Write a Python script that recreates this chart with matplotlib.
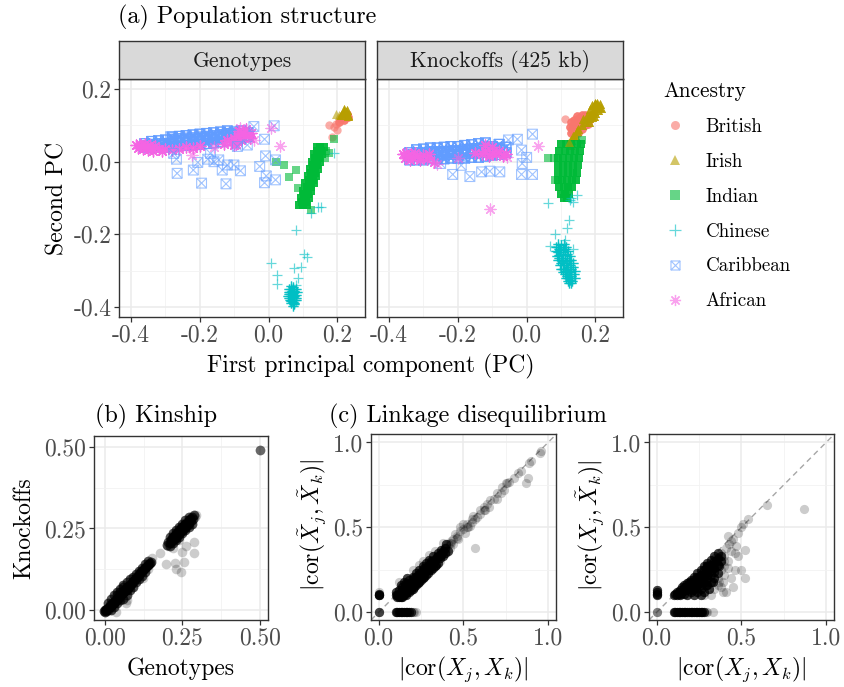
import matplotlib
matplotlib.use('Agg')
import matplotlib.pyplot as plt
from matplotlib.path import Path
from matplotlib.lines import Line2D

plt.rcParams['font.family'] = 'cmr10'
plt.rcParams['mathtext.fontset'] = 'cm'
plt.rcParams['axes.unicode_minus'] = False

W, H = 844, 687

ancestry = ['British', 'Irish', 'Indian', 'Chinese', 'Caribbean', 'African']
colors = ['#F8766D', '#B79F00', '#00BA38', '#00BFC4', '#619CFF', '#F564E3']

# ---- (a) PCs, genotypes: dense cores and scattered individuals ----
british_geno_core = [(0.205, 0.110), (0.210, 0.118), (0.215, 0.125), (0.220, 0.130), (0.225, 0.128),
                     (0.212, 0.122), (0.218, 0.115), (0.222, 0.122), (0.228, 0.132), (0.230, 0.124)]
british_geno_out = [(0.176, 0.102), (0.200, 0.088), (0.185, 0.068), (0.195, 0.105), (0.190, 0.095)]
irish_geno_core = [(0.215, 0.135), (0.220, 0.140), (0.225, 0.138), (0.230, 0.130), (0.210, 0.128),
                   (0.228, 0.142), (0.218, 0.145), (0.232, 0.125)]
irish_geno_out = [(0.205, 0.130), (0.195, 0.132)]
indian_geno_core = [(0.088, -0.12), (0.100, -0.12), (0.112, -0.12), (0.094, -0.10), (0.106, -0.10),
                    (0.118, -0.10), (0.100, -0.08), (0.112, -0.08), (0.124, -0.08), (0.107, -0.06),
                    (0.119, -0.06), (0.131, -0.06), (0.113, -0.04), (0.125, -0.04), (0.137, -0.04),
                    (0.119, -0.02), (0.131, -0.02), (0.143, -0.02), (0.125, 0.00), (0.137, 0.00),
                    (0.149, 0.00), (0.132, 0.02), (0.144, 0.02), (0.156, 0.02), (0.140, 0.04),
                    (0.150, 0.04), (0.160, 0.04), (0.097, -0.11), (0.109, -0.11), (0.103, -0.09),
                    (0.115, -0.09), (0.110, -0.07), (0.122, -0.07), (0.116, -0.05), (0.128, -0.05),
                    (0.122, -0.03), (0.134, -0.03), (0.128, -0.01), (0.140, -0.01), (0.134, 0.01),
                    (0.146, 0.01), (0.141, 0.03), (0.153, 0.03)]
indian_geno_out = [(0.020, -0.002), (0.045, -0.009), (0.059, -0.041), (0.079, -0.023), (0.084, -0.073),
                   (0.122, -0.133), (0.190, 0.062), (0.176, 0.023), (0.168, 0.030), (0.165, 0.010)]
chinese_geno_core = [(0.062, -0.360), (0.068, -0.355), (0.074, -0.358), (0.065, -0.370), (0.072, -0.372),
                     (0.078, -0.368), (0.060, -0.375), (0.068, -0.380), (0.075, -0.380), (0.070, -0.388),
                     (0.064, -0.385), (0.072, -0.345), (0.078, -0.350), (0.066, -0.365), (0.070, -0.362),
                     (0.073, -0.392), (0.082, -0.360), (0.058, -0.365), (0.060, -0.350), (0.065, -0.350),
                     (0.070, -0.350), (0.075, -0.355), (0.060, -0.360), (0.070, -0.370), (0.075, -0.370),
                     (0.062, -0.380), (0.078, -0.380), (0.066, -0.390), (0.074, -0.390), (0.070, -0.398),
                     (0.080, -0.375), (0.057, -0.370), (0.064, -0.342)]
chinese_geno_out = [(0.006, -0.280), (0.025, -0.313), (0.025, -0.336), (0.079, -0.188), (0.103, -0.253),
                    (0.110, -0.262), (0.093, -0.290), (0.074, -0.294), (0.142, -0.126), (0.122, -0.142),
                    (0.190, 0.023), (0.151, -0.124), (0.085, -0.320), (0.080, -0.340)]
caribbean_geno_core = [(-0.36, 0.040), (-0.36, 0.050), (-0.34, 0.038), (-0.34, 0.048), (-0.34, 0.056),
                       (-0.32, 0.040), (-0.32, 0.050), (-0.32, 0.058), (-0.30, 0.040), (-0.30, 0.050),
                       (-0.30, 0.060), (-0.28, 0.042), (-0.28, 0.052), (-0.28, 0.062), (-0.28, 0.068),
                       (-0.26, 0.044), (-0.26, 0.054), (-0.26, 0.064), (-0.26, 0.070), (-0.24, 0.045),
                       (-0.24, 0.055), (-0.24, 0.065), (-0.24, 0.072), (-0.22, 0.046), (-0.22, 0.056),
                       (-0.22, 0.066), (-0.22, 0.074), (-0.20, 0.048), (-0.20, 0.058), (-0.20, 0.068),
                       (-0.20, 0.076), (-0.18, 0.050), (-0.18, 0.060), (-0.18, 0.070), (-0.18, 0.078),
                       (-0.16, 0.052), (-0.16, 0.062), (-0.16, 0.072), (-0.16, 0.080), (-0.14, 0.055),
                       (-0.14, 0.065), (-0.14, 0.075), (-0.14, 0.082), (-0.12, 0.058), (-0.12, 0.068),
                       (-0.12, 0.078), (-0.12, 0.085), (-0.10, 0.062), (-0.10, 0.072), (-0.10, 0.082),
                       (-0.08, 0.065), (-0.08, 0.075), (-0.08, 0.085), (-0.06, 0.070), (-0.06, 0.080),
                       (-0.35, 0.044), (-0.33, 0.045), (-0.31, 0.046), (-0.29, 0.048), (-0.27, 0.058),
                       (-0.25, 0.060), (-0.23, 0.060), (-0.21, 0.062), (-0.19, 0.064), (-0.17, 0.066),
                       (-0.15, 0.068), (-0.13, 0.072), (-0.11, 0.076), (-0.09, 0.078), (-0.07, 0.078)]
caribbean_geno_out = [(-0.266, -0.032), (-0.268, 0.007), (-0.195, -0.059), (-0.124, -0.061), (-0.219, -0.023),
                      (-0.206, -0.002), (-0.177, 0.007), (-0.159, 0.000), (-0.135, -0.023), (-0.120, -0.009),
                      (-0.101, -0.009), (-0.082, -0.025), (-0.026, -0.013), (-0.009, 0.016), (-0.007, -0.039),
                      (-0.012, -0.058), (0.020, -0.050), (0.020, 0.005), (-0.043, 0.097), (0.016, 0.099),
                      (-0.012, 0.062), (-0.062, 0.046), (-0.091, 0.042), (-0.285, 0.069), (-0.276, 0.023),
                      (-0.169, 0.023), (-0.145, 0.005)]
african_geno_core = [(-0.385, 0.045), (-0.380, 0.038), (-0.375, 0.050), (-0.370, 0.042), (-0.365, 0.035),
                     (-0.360, 0.048), (-0.355, 0.040), (-0.350, 0.032), (-0.345, 0.045), (-0.340, 0.038),
                     (-0.335, 0.030), (-0.330, 0.042), (-0.320, 0.035), (-0.310, 0.030), (-0.300, 0.035),
                     (-0.280, 0.032), (-0.260, 0.035), (-0.240, 0.040), (-0.220, 0.038), (-0.200, 0.042),
                     (-0.130, 0.050), (-0.120, 0.060), (-0.110, 0.055), (-0.100, 0.065), (-0.090, 0.070),
                     (-0.080, 0.060), (-0.075, 0.080), (-0.070, 0.075), (-0.065, 0.090), (-0.060, 0.070),
                     (-0.055, 0.065), (-0.050, 0.080), (-0.085, 0.085), (-0.100, 0.045), (-0.095, 0.050)]
african_geno_out = [(0.033, 0.042), (0.006, 0.092), (-0.082, 0.092), (-0.222, 0.019), (-0.043, 0.060),
                    (-0.160, 0.040)]

# ---- (a) PCs, knockoffs ----
british_knock_core = [(0.128, 0.080), (0.132, 0.090), (0.135, 0.100), (0.140, 0.085), (0.142, 0.098),
                      (0.148, 0.105), (0.150, 0.092), (0.155, 0.110), (0.158, 0.100), (0.162, 0.115),
                      (0.165, 0.105), (0.170, 0.120), (0.175, 0.112), (0.180, 0.125), (0.185, 0.118),
                      (0.190, 0.130), (0.145, 0.112), (0.138, 0.075), (0.125, 0.095), (0.130, 0.110),
                      (0.138, 0.115), (0.145, 0.125), (0.152, 0.120), (0.160, 0.128), (0.170, 0.130),
                      (0.135, 0.085), (0.150, 0.080), (0.160, 0.090), (0.170, 0.100), (0.178, 0.105)]
british_knock_out = [(0.111, 0.117)]
irish_knock_core = [(0.126, 0.046), (0.130, 0.060), (0.135, 0.070), (0.140, 0.075), (0.145, 0.085),
                    (0.150, 0.090), (0.160, 0.100), (0.170, 0.110), (0.180, 0.120), (0.190, 0.135),
                    (0.195, 0.140), (0.200, 0.148), (0.205, 0.155), (0.210, 0.150), (0.200, 0.158),
                    (0.185, 0.128), (0.175, 0.125), (0.165, 0.118), (0.195, 0.125), (0.208, 0.142),
                    (0.185, 0.145), (0.190, 0.155), (0.198, 0.162), (0.205, 0.162), (0.212, 0.158),
                    (0.215, 0.148), (0.200, 0.135), (0.190, 0.122), (0.180, 0.110)]
irish_knock_out = [(0.122, 0.055)]
indian_knock_core = [(0.100, 0.05), (0.115, 0.05), (0.130, 0.05), (0.145, 0.05), (0.158, 0.05),
                     (0.095, 0.03), (0.110, 0.03), (0.125, 0.03), (0.140, 0.03), (0.155, 0.03),
                     (0.092, 0.01), (0.107, 0.01), (0.122, 0.01), (0.137, 0.01), (0.152, 0.01),
                     (0.090, -0.01), (0.105, -0.01), (0.120, -0.01), (0.135, -0.01), (0.148, -0.01),
                     (0.090, -0.03), (0.105, -0.03), (0.120, -0.03), (0.135, -0.03), (0.145, -0.03),
                     (0.090, -0.05), (0.104, -0.05), (0.118, -0.05), (0.132, -0.05), (0.142, -0.05),
                     (0.095, -0.07), (0.108, -0.07), (0.120, -0.07), (0.133, -0.07),
                     (0.100, -0.09), (0.112, -0.09), (0.124, -0.09), (0.108, -0.10), (0.118, -0.10)]
indian_knock_out = [(0.063, 0.009), (0.078, 0.009), (0.082, -0.050), (0.160, 0.060)]
chinese_knock_core = [(0.085, -0.235), (0.100, -0.230), (0.110, -0.240), (0.090, -0.250), (0.105, -0.250),
                      (0.118, -0.255), (0.095, -0.265), (0.110, -0.265), (0.122, -0.270), (0.100, -0.280),
                      (0.113, -0.280), (0.126, -0.285), (0.105, -0.295), (0.118, -0.295), (0.130, -0.300),
                      (0.110, -0.310), (0.122, -0.310), (0.115, -0.320), (0.125, -0.325), (0.120, -0.330),
                      (0.135, -0.290), (0.098, -0.242), (0.090, -0.235), (0.095, -0.240), (0.105, -0.240),
                      (0.100, -0.255), (0.112, -0.258), (0.095, -0.258), (0.105, -0.270), (0.116, -0.275),
                      (0.108, -0.285), (0.120, -0.290), (0.112, -0.300), (0.125, -0.305), (0.115, -0.305),
                      (0.118, -0.315), (0.128, -0.315), (0.120, -0.320), (0.122, -0.335), (0.130, -0.320),
                      (0.102, -0.272), (0.092, -0.228), (0.085, -0.245), (0.088, -0.260), (0.140, -0.300),
                      (0.138, -0.310), (0.132, -0.330), (0.128, -0.335), (0.092, -0.270), (0.098, -0.285),
                      (0.135, -0.280), (0.130, -0.270), (0.125, -0.260), (0.120, -0.245), (0.115, -0.235),
                      (0.108, -0.228), (0.128, -0.295), (0.140, -0.320), (0.100, -0.295), (0.105, -0.305)]
chinese_knock_out = [(0.063, -0.115), (0.123, -0.160), (0.116, -0.184), (0.082, -0.199), (0.069, -0.232),
                     (0.145, -0.092), (0.135, -0.110), (0.130, -0.100), (0.112, -0.215), (0.135, -0.240),
                     (0.125, -0.105)]
caribbean_knock_core = [(-0.34, 0.005), (-0.34, 0.015), (-0.34, 0.025), (-0.32, 0.005), (-0.32, 0.015),
                        (-0.32, 0.025), (-0.32, 0.033), (-0.30, 0.005), (-0.30, 0.015), (-0.30, 0.025),
                        (-0.30, 0.035), (-0.28, 0.008), (-0.28, 0.018), (-0.28, 0.028), (-0.28, 0.038),
                        (-0.26, 0.008), (-0.26, 0.018), (-0.26, 0.028), (-0.26, 0.038), (-0.24, 0.008),
                        (-0.24, 0.018), (-0.24, 0.028), (-0.24, 0.040), (-0.22, 0.010), (-0.22, 0.020),
                        (-0.22, 0.030), (-0.22, 0.042), (-0.20, 0.010), (-0.20, 0.020), (-0.20, 0.030),
                        (-0.20, 0.042), (-0.18, 0.010), (-0.18, 0.022), (-0.18, 0.034), (-0.18, 0.045),
                        (-0.16, 0.012), (-0.16, 0.024), (-0.16, 0.036), (-0.16, 0.047), (-0.14, 0.012),
                        (-0.14, 0.024), (-0.14, 0.036), (-0.14, 0.050), (-0.12, 0.015), (-0.12, 0.027),
                        (-0.12, 0.040), (-0.12, 0.052), (-0.10, 0.018), (-0.10, 0.030), (-0.10, 0.042),
                        (-0.08, 0.020), (-0.08, 0.035), (-0.08, 0.048), (-0.06, 0.025), (-0.06, 0.040),
                        (-0.33, 0.020), (-0.31, 0.020), (-0.29, 0.022), (-0.27, 0.024), (-0.25, 0.024),
                        (-0.23, 0.026), (-0.21, 0.026), (-0.19, 0.028), (-0.17, 0.030), (-0.15, 0.032),
                        (-0.13, 0.034), (-0.11, 0.036), (-0.09, 0.038), (-0.07, 0.032)]
caribbean_knock_out = [(-0.215, -0.035), (-0.165, -0.041), (-0.131, -0.028), (-0.107, -0.026), (-0.078, -0.028),
                       (-0.015, -0.035), (0.017, -0.035), (-0.053, 0.060), (-0.027, 0.062), (0.017, 0.076),
                       (-0.015, 0.032), (0.000, 0.012), (-0.013, -0.005), (-0.250, -0.005), (-0.190, -0.010)]
african_knock_core = [(-0.360, 0.020), (-0.355, 0.010), (-0.350, 0.025), (-0.345, 0.015), (-0.340, 0.005),
                      (-0.335, 0.020), (-0.330, 0.010), (-0.325, 0.025), (-0.320, 0.015), (-0.310, 0.005),
                      (-0.300, 0.018), (-0.290, 0.008), (-0.285, 0.022), (-0.270, 0.000),
                      (-0.150, 0.025), (-0.130, 0.020), (-0.120, 0.030), (-0.110, 0.015), (-0.100, 0.025),
                      (-0.090, 0.020), (-0.080, 0.030), (-0.070, 0.015), (-0.060, 0.020), (-0.120, 0.045),
                      (-0.100, 0.040)]
african_knock_out = [(0.034, 0.043), (-0.107, -0.130), (-0.058, 0.014), (-0.200, 0.010), (-0.260, -0.005)]

# ---- (b) kinship: dense band and scattered pairs ----
kin_band = [(0.0, 0.0), (0.0, -0.005), (0.003, 0.002), (0.005, -0.003), (-0.004, -0.004),
            (0.008, 0.004), (0.01, 0.0), (0.012, 0.008), (0.015, 0.01), (0.018, 0.015),
            (0.02, 0.012), (0.022, 0.02), (0.025, 0.018), (0.028, 0.025), (0.03, 0.022),
            (0.032, 0.03), (0.035, 0.028), (0.038, 0.035), (0.04, 0.032), (0.042, 0.04),
            (0.045, 0.038), (0.048, 0.045), (0.05, 0.042), (0.052, 0.05), (0.055, 0.048),
            (0.058, 0.055), (0.06, 0.052), (0.062, 0.06), (0.065, 0.058), (0.068, 0.065),
            (0.07, 0.06), (0.072, 0.07), (0.075, 0.068), (0.078, 0.075), (0.08, 0.072),
            (0.083, 0.08), (0.086, 0.083), (0.09, 0.088), (0.093, 0.09), (0.096, 0.095),
            (0.1, 0.098), (0.103, 0.1), (0.106, 0.105), (0.11, 0.108), (0.113, 0.112),
            (0.116, 0.115), (0.12, 0.118), (0.123, 0.122), (0.126, 0.125), (0.13, 0.128),
            (0.133, 0.132), (0.136, 0.135), (0.14, 0.138), (0.143, 0.142), (0.146, 0.145),
            (0.15, 0.148), (0.06, 0.07), (0.05, 0.055), (0.04, 0.045),
            (0.01, 0.02), (0.02, 0.035), (0.03, 0.045), (0.04, 0.055), (0.05, 0.065),
            (0.06, 0.075), (0.07, 0.085), (0.08, 0.095), (0.09, 0.1), (0.1, 0.11),
            (0.11, 0.12), (0.12, 0.13), (0.13, 0.14), (0.14, 0.15),
            (0.02, 0.0), (0.03, 0.01), (0.04, 0.02), (0.05, 0.03), (0.06, 0.035),
            (0.07, 0.045), (0.08, 0.06), (0.09, 0.07), (0.1, 0.085), (0.11, 0.095),
            (0.12, 0.105), (0.13, 0.115),
            (0.2, 0.2), (0.205, 0.21), (0.21, 0.205), (0.212, 0.215), (0.215, 0.22),
            (0.218, 0.212), (0.22, 0.225), (0.222, 0.218), (0.225, 0.23), (0.228, 0.222),
            (0.23, 0.235), (0.232, 0.228), (0.235, 0.24), (0.238, 0.232), (0.24, 0.245),
            (0.242, 0.238), (0.245, 0.25), (0.248, 0.242), (0.25, 0.255), (0.252, 0.248),
            (0.255, 0.26), (0.258, 0.252), (0.26, 0.265), (0.262, 0.258), (0.265, 0.27),
            (0.268, 0.262), (0.27, 0.275), (0.272, 0.268), (0.275, 0.28), (0.278, 0.272),
            (0.28, 0.285), (0.285, 0.28), (0.288, 0.29), (0.21, 0.195), (0.22, 0.205),
            (0.23, 0.215), (0.24, 0.225), (0.25, 0.235), (0.21, 0.225), (0.22, 0.235),
            (0.23, 0.245), (0.24, 0.255), (0.25, 0.265), (0.26, 0.275), (0.27, 0.285),
            (0.26, 0.245), (0.27, 0.255), (0.28, 0.265)]
kin_sparse = [(0.292, 0.286), (0.295, 0.292), (0.037, -0.005), (0.069, 0.02), (0.123, 0.097),
              (0.065, 0.04), (0.07, 0.03), (0.14, 0.125), (0.24, 0.215), (0.22, 0.19),
              (0.177, 0.176), (0.198, 0.141), (0.227, 0.145), (0.23, 0.126), (0.247, 0.115),
              (0.255, 0.147), (0.25, 0.177), (0.288, 0.208), (0.287, 0.176), (0.204, 0.197),
              (0.263, 0.195), (0.152, 0.159),
              (0.5, 0.49), (0.5, 0.49), (0.5, 0.49), (0.5, 0.49)]

# ---- (c) LD, knockoffs vs genotypes ----
ld_knock_dense = [(0.0, 0.0), (0.0, 0.1), (0.0, 0.11), (0.005, 0.1),
                  (0.10, 0.0), (0.11, 0.0), (0.12, 0.0), (0.13, 0.0), (0.14, 0.0), (0.15, 0.0),
                  (0.16, 0.0), (0.17, 0.0), (0.18, 0.0), (0.19, 0.0),
                  (0.1, 0.1), (0.12, 0.11), (0.12, 0.13), (0.14, 0.12), (0.14, 0.15), (0.15, 0.1),
                  (0.16, 0.14), (0.16, 0.17), (0.17, 0.12), (0.18, 0.16), (0.18, 0.19), (0.19, 0.13),
                  (0.2, 0.18), (0.2, 0.21), (0.21, 0.15), (0.22, 0.2), (0.22, 0.23), (0.23, 0.17),
                  (0.24, 0.22), (0.24, 0.25), (0.25, 0.19), (0.26, 0.24), (0.26, 0.27), (0.27, 0.21),
                  (0.28, 0.26), (0.28, 0.29), (0.29, 0.23), (0.3, 0.28), (0.3, 0.31), (0.31, 0.25),
                  (0.32, 0.3), (0.32, 0.33), (0.33, 0.27), (0.34, 0.32), (0.35, 0.35), (0.35, 0.29),
                  (0.36, 0.34), (0.37, 0.37), (0.38, 0.33), (0.39, 0.38), (0.4, 0.4), (0.41, 0.36),
                  (0.13, 0.09), (0.15, 0.11), (0.17, 0.13), (0.19, 0.15), (0.21, 0.17), (0.23, 0.19),
                  (0.25, 0.21), (0.27, 0.24), (0.11, 0.09), (0.13, 0.16), (0.15, 0.18), (0.17, 0.2),
                  (0.1, 0.12), (0.11, 0.1), (0.12, 0.09), (0.13, 0.1), (0.14, 0.09), (0.15, 0.14),
                  (0.16, 0.1), (0.17, 0.16), (0.18, 0.12), (0.19, 0.17), (0.2, 0.14), (0.21, 0.2),
                  (0.22, 0.16), (0.23, 0.22), (0.24, 0.18), (0.25, 0.24), (0.26, 0.2), (0.27, 0.26),
                  (0.28, 0.22), (0.29, 0.27), (0.3, 0.25), (0.31, 0.3), (0.32, 0.26), (0.33, 0.31),
                  (0.34, 0.28), (0.35, 0.33), (0.36, 0.32), (0.37, 0.34), (0.38, 0.36), (0.39, 0.35)]
ld_knock_sparse = [(0.2, 0.0), (0.21, 0.0), (0.22, 0.0), (0.0, 0.12),
                   (0.42, 0.41), (0.43, 0.42), (0.44, 0.4), (0.45, 0.46), (0.46, 0.44), (0.48, 0.48),
                   (0.5, 0.49), (0.52, 0.52), (0.53, 0.5), (0.55, 0.53), (0.57, 0.38), (0.58, 0.56),
                   (0.62, 0.62), (0.63, 0.6), (0.66, 0.66), (0.7, 0.67), (0.7, 0.7), (0.76, 0.76),
                   (0.77, 0.77), (0.84, 0.83), (0.87, 0.76), (0.88, 0.79), (0.89, 0.88), (0.96, 0.95),
                   (0.2, 0.25), (0.24, 0.28), (0.26, 0.3), (0.3, 0.34), (0.33, 0.36), (0.36, 0.3),
                   (0.4, 0.35), (0.38, 0.41), (0.12, 0.18), (0.4, 0.38), (0.41, 0.4), (0.42, 0.38),
                   (0.43, 0.41), (0.44, 0.43), (0.46, 0.45), (0.47, 0.43), (0.48, 0.5), (0.5, 0.52),
                   (0.52, 0.5), (0.55, 0.55), (0.57, 0.55), (0.6, 0.6), (0.6, 0.58), (0.65, 0.62),
                   (0.68, 0.67), (0.72, 0.7), (0.74, 0.72), (0.8, 0.79), (0.82, 0.82), (0.9, 0.89),
                   (0.95, 0.94), (0.75, 0.76), (0.73, 0.74), (0.56, 0.57), (0.54, 0.51), (0.51, 0.47),
                   (0.62, 0.6), (0.64, 0.64)]

# ---- (c) LD, cross knockoff/genotype ----
ld_cross_dense = [(0.0, 0.1), (0.0, 0.11), (0.0, 0.12), (0.005, 0.13),
                  (0.10, 0.0), (0.11, 0.0), (0.12, 0.0), (0.13, 0.0), (0.14, 0.0), (0.15, 0.0),
                  (0.16, 0.0), (0.17, 0.0), (0.18, 0.0), (0.19, 0.0), (0.20, 0.0), (0.21, 0.0),
                  (0.22, 0.0), (0.23, 0.0), (0.24, 0.0), (0.25, 0.0), (0.26, 0.0), (0.27, 0.0),
                  (0.28, 0.0),
                  (0.1, 0.1), (0.12, 0.1), (0.12, 0.12), (0.14, 0.1), (0.14, 0.13), (0.15, 0.15),
                  (0.16, 0.11), (0.16, 0.16), (0.17, 0.13), (0.18, 0.1), (0.18, 0.17), (0.19, 0.15),
                  (0.2, 0.12), (0.2, 0.19), (0.21, 0.17), (0.22, 0.1), (0.22, 0.14), (0.22, 0.21),
                  (0.23, 0.19), (0.24, 0.12), (0.24, 0.16), (0.24, 0.23), (0.25, 0.2), (0.26, 0.1),
                  (0.26, 0.14), (0.26, 0.25), (0.27, 0.18), (0.27, 0.22), (0.28, 0.12), (0.28, 0.27),
                  (0.29, 0.16), (0.29, 0.24), (0.3, 0.2), (0.3, 0.29), (0.31, 0.14), (0.31, 0.26),
                  (0.32, 0.22), (0.32, 0.31), (0.33, 0.18), (0.33, 0.28), (0.34, 0.33), (0.34, 0.24),
                  (0.35, 0.3), (0.36, 0.35), (0.37, 0.27), (0.38, 0.33), (0.13, 0.12), (0.15, 0.12),
                  (0.17, 0.15), (0.19, 0.18), (0.21, 0.13), (0.23, 0.15), (0.25, 0.17), (0.11, 0.11),
                  (0.14, 0.11), (0.16, 0.14), (0.18, 0.14), (0.18, 0.15), (0.2, 0.16), (0.2, 0.18),
                  (0.22, 0.16), (0.22, 0.18), (0.24, 0.18), (0.24, 0.21), (0.26, 0.16), (0.26, 0.2),
                  (0.26, 0.22), (0.28, 0.18), (0.28, 0.22), (0.28, 0.25), (0.3, 0.16), (0.3, 0.22),
                  (0.3, 0.26), (0.3, 0.27), (0.32, 0.18), (0.32, 0.25), (0.32, 0.28), (0.34, 0.2),
                  (0.34, 0.26), (0.34, 0.3), (0.36, 0.23), (0.36, 0.28), (0.36, 0.32), (0.38, 0.3)]
ld_cross_sparse = [(0.0, 0.0), (0.0, 0.0), (0.0, 0.0), (0.29, 0.0), (0.30, 0.0), (0.33, 0.0),
                   (0.36, 0.2), (0.38, 0.15), (0.39, 0.12), (0.4, 0.3), (0.4, 0.22), (0.41, 0.38),
                   (0.42, 0.45), (0.42, 0.26), (0.43, 0.4), (0.44, 0.2), (0.45, 0.43), (0.45, 0.15),
                   (0.46, 0.35), (0.47, 0.39), (0.48, 0.47), (0.5, 0.25), (0.5, 0.5), (0.51, 0.52),
                   (0.52, 0.2), (0.52, 0.37), (0.54, 0.55), (0.65, 0.63), (0.87, 0.61), (0.38, 0.29),
                   (0.41, 0.12), (0.38, 0.25), (0.38, 0.35), (0.4, 0.27), (0.4, 0.33), (0.42, 0.3),
                   (0.44, 0.36), (0.44, 0.42), (0.46, 0.25), (0.48, 0.33), (0.37, 0.18), (0.32, 0.1),
                   (0.28, 0.1), (0.34, 0.14), (0.36, 0.16), (0.39, 0.18)]

# box with a cross, like ggplot shape 7
boxx = Path([(-1, -1), (1, -1), (1, 1), (-1, 1), (-1, -1), (-1, -1), (1, 1), (-1, 1), (1, -1)],
            [Path.MOVETO, Path.LINETO, Path.LINETO, Path.LINETO, Path.CLOSEPOLY,
             Path.MOVETO, Path.LINETO, Path.MOVETO, Path.LINETO])
markers = ['o', '^', 's', '+', boxx, (8, 2, 0)]
sizes = [36, 42, 32, 62, 50, 62]

geno_core = [british_geno_core, irish_geno_core, indian_geno_core, chinese_geno_core,
             caribbean_geno_core, african_geno_core]
geno_out = [british_geno_out, irish_geno_out, indian_geno_out, chinese_geno_out,
            caribbean_geno_out, african_geno_out]
knock_core = [british_knock_core, irish_knock_core, indian_knock_core, chinese_knock_core,
              caribbean_knock_core, african_knock_core]
knock_out = [british_knock_out, irish_knock_out, indian_knock_out, chinese_knock_out,
             caribbean_knock_out, african_knock_out]


def box(l, t, r, b):
    return [l / W, 1 - b / H, (r - l) / W, (b - t) / H]


def style(ax, xlim, ylim, xmaj, xmin, ymaj, ymin, xlab, ylab):
    ax.set_xlim(xlim)
    ax.set_ylim(ylim)
    ax.set_xticks(xmaj)
    ax.set_xticks(xmin, minor=True)
    ax.set_yticks(ymaj)
    ax.set_yticks(ymin, minor=True)
    ax.set_xticklabels(xlab)
    ax.set_yticklabels(ylab)
    ax.grid(which='major', color='#EBEBEB', lw=1.1)
    ax.grid(which='minor', color='#F2F2F2', lw=0.6)
    ax.set_axisbelow(True)
    for s in ax.spines.values():
        s.set_color('#333333')
        s.set_linewidth(1.0)
    ax.tick_params(which='major', length=3.5, width=0.9, color='#333333',
                   labelsize=17, labelcolor='#4D4D4D', pad=2)
    ax.tick_params(which='minor', length=0)


def strip(l, r, label):
    sax = fig.add_axes(box(l, 41, r, 79))
    sax.set_facecolor('#D9D9D9')
    sax.set_xticks([])
    sax.set_yticks([])
    for s in sax.spines.values():
        s.set_color('#333333')
        s.set_linewidth(1.0)
    sax.text(0.5, 0.47, label, ha='center', va='center', fontsize=15.5,
             color='#1A1A1A', transform=sax.transAxes)


def pc_scatter(ax, pts, c, m, s, reps):
    if not pts:
        return
    xs, ys = zip(*pts)
    xs, ys = list(xs) * reps, list(ys) * reps
    if m is boxx:
        ax.scatter(xs, ys, marker=m, s=s, facecolors='none', edgecolors=c,
                   linewidths=0.8, alpha=0.6)
    elif m in ['+', (8, 2, 0)]:
        ax.scatter(xs, ys, marker=m, s=s, color=c, linewidths=0.9, alpha=0.6)
    else:
        ax.scatter(xs, ys, marker=m, s=s, color=c, linewidths=0, alpha=0.6)


def grey_scatter(ax, pts, reps, s):
    xs, ys = zip(*pts)
    ax.scatter(list(xs) * reps, list(ys) * reps, s=s, color='black', alpha=0.2,
               linewidths=0, zorder=2)


fig = plt.figure(figsize=(W / 100, H / 100), dpi=100)

pc_ticks = [-0.4, -0.2, 0.0, 0.2]
pc_minor = [-0.3, -0.1, 0.1]
pc_labels = ['-0.4', '-0.2', '0.0', '0.2']

for (l, r), cores, outs, title in [((119, 365), geno_core, geno_out, 'Genotypes'),
                                   ((377, 623), knock_core, knock_out, 'Knockoffs (425 kb)')]:
    ax = fig.add_axes(box(l, 79, r, 317))
    for pts, c, m, s in zip(cores, colors, markers, sizes):
        pc_scatter(ax, pts, c, m, s, 3)
    for pts, c, m, s in zip(outs, colors, markers, sizes):
        pc_scatter(ax, pts, c, m, s, 1)
    style(ax, (-0.435, 0.28), (-0.428, 0.228), pc_ticks, pc_minor, pc_ticks, pc_minor,
          pc_labels, pc_labels)
    if l > 200:
        ax.tick_params(axis='y', length=0, labelleft=False)
    strip(l, r, title)

fig.text(118 / W, 1 - 17 / H, '(a) Population structure', fontsize=17.4, va='center', ha='left')
fig.text(57 / W, 1 - 198 / H, 'Second PC', fontsize=17, rotation=90, va='center', ha='center')
fig.text(371 / W, 1 - 366 / H, 'First principal component (PC)', fontsize=17,
         va='center', ha='center')

handles = []
for name, c, m in zip(ancestry, colors, markers):
    if m is boxx:
        h = Line2D([], [], ls='none', marker=m, markersize=6.5, markerfacecolor='none',
                   markeredgecolor=c, markeredgewidth=0.8, alpha=0.6)
    elif m in ['+', (8, 2, 0)]:
        h = Line2D([], [], ls='none', marker=m, markersize=8, color=c,
                   markeredgewidth=0.9, alpha=0.6)
    else:
        h = Line2D([], [], ls='none', marker=m, markersize=6.5, color=c,
                   markeredgewidth=0, alpha=0.6)
    handles.append(h)
leg = fig.legend(handles, ancestry, loc='upper left', bbox_to_anchor=(656 / W, 1 - 74 / H),
                 frameon=False, fontsize=13.7, title='Ancestry', title_fontsize=15.3,
                 alignment='left', labelspacing=0.89, handlelength=1.2, handletextpad=1.0,
                 borderaxespad=0)

# (b) kinship
ax = fig.add_axes(box(94, 436, 268, 620))
grey_scatter(ax, kin_band, 5, 48)
grey_scatter(ax, kin_sparse, 1, 48)
k_ticks = [0.0, 0.25, 0.5]
k_labels = ['0.00', '0.25', '0.50']
style(ax, (-0.035, 0.526), (-0.031, 0.534), k_ticks, [0.125, 0.375], k_ticks, [0.125, 0.375],
      k_labels, k_labels)
fig.text(95 / W, 1 - 416 / H, '(b) Kinship', fontsize=17.4, va='center', ha='left')
fig.text(24 / W, 1 - 528 / H, 'Knockoffs', fontsize=17, rotation=90, va='center', ha='center')
fig.text(181 / W, 1 - 669 / H, 'Genotypes', fontsize=17, va='center', ha='center')

# (c) linkage disequilibrium
ld_ticks = [0.0, 0.5, 1.0]
ld_labels = ['0.0', '0.5', '1.0']
ylabs = [r'$|\mathrm{cor}(\tilde{X}_j, \tilde{X}_k)|$', r'$|\mathrm{cor}(X_j, \tilde{X}_k)|$']
for (l, r), dense, sparse, ylab, ypos in [((371, 556), ld_knock_dense, ld_knock_sparse, ylabs[0], 313),
                                         ((649, 834), ld_cross_dense, ld_cross_sparse, ylabs[1], 591)]:
    ax = fig.add_axes(box(l, 434, r, 620))
    ax.axline((0, 0), (1, 1), color='#A6A6A6', ls=(0, (4, 3)), lw=1.0, zorder=1)
    grey_scatter(ax, dense, 6, 44)
    grey_scatter(ax, sparse, 1, 44)
    style(ax, (-0.045, 1.047), (-0.045, 1.05), ld_ticks, [0.25, 0.75], ld_ticks, [0.25, 0.75],
          ld_labels, ld_labels)
    fig.text(ypos / W, 1 - 525 / H, ylab, fontsize=17, rotation=90, va='center', ha='center')
    fig.text((l + r) / 2 / W, 1 - 669 / H, r'$|\mathrm{cor}(X_j, X_k)|$', fontsize=17,
             va='center', ha='center')

fig.text(329 / W, 1 - 416 / H, '(c) Linkage disequilibrium', fontsize=17.4, va='center', ha='left')

fig.savefig('out.png', dpi=100)
